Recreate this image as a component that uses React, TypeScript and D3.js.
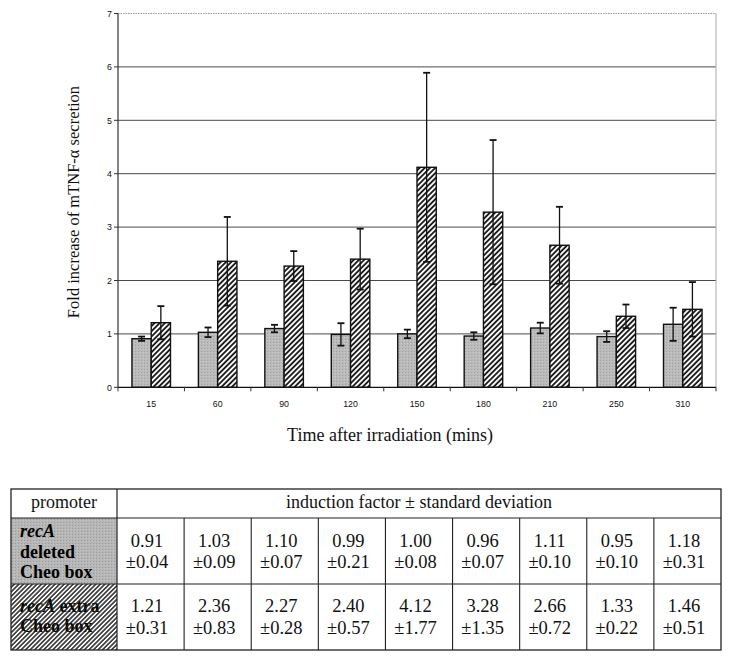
import React from "react";
import * as d3 from "d3";

const categories = ["15", "60", "90", "120", "150", "180", "210", "250", "310"];
const deletedMeans = [0.91, 1.03, 1.1, 0.99, 1.0, 0.96, 1.11, 0.95, 1.18];
const deletedSD = [0.04, 0.09, 0.07, 0.21, 0.08, 0.07, 0.1, 0.1, 0.31];
const extraMeans = [1.21, 2.36, 2.27, 2.4, 4.12, 3.28, 2.66, 1.33, 1.46];
const extraSD = [0.31, 0.83, 0.28, 0.57, 1.77, 1.35, 0.72, 0.22, 0.51];
const yTicks = [0, 1, 2, 3, 4, 5, 6, 7];
const seriesKeys = ["deleted", "extra"];

const W = 729;
const H = 660;
const plot = { left: 118, right: 716, top: 13.5, bottom: 387.3 };
const table = { left: 11, right: 721, firstCol: 117, rows: [489, 518, 584, 650] };

const SERIF = "'Liberation Serif', 'Times New Roman', serif";
const SANS = "'Liberation Sans', Arial, sans-serif";

export default function App() {
  const x = d3.scaleBand<string>().domain(categories).range([plot.left, plot.right]).paddingInner(0.42).paddingOuter(0.21);
  const step = x.step();
  const xs = d3.scaleBand<string>().domain(seriesKeys).range([0, x.bandwidth()]).padding(0);
  const y = d3.scaleLinear().domain([0, 7]).range([plot.bottom, plot.top]);
  const boundaries = d3.range(categories.length + 1).map((i) => plot.left + i * step);

  const tcol = d3.scaleBand<string>().domain(categories).range([table.firstCol, table.right]);

  const series = [
    { key: "deleted", means: deletedMeans, sd: deletedSD, fill: "url(#stipple)" },
    { key: "extra", means: extraMeans, sd: extraSD, fill: "url(#hatch)" },
  ];

  return (
    <svg width={W} height={H} style={{ position: "absolute", left: 0, top: 0, background: "#fff" }}>
      <defs>
        <pattern id="hatch" patternUnits="userSpaceOnUse" width="3.7" height="3.7" patternTransform="rotate(45)">
          <rect width="3.7" height="3.7" fill="#fff" />
          <line x1="1" y1="0" x2="1" y2="3.7" stroke="#111" strokeWidth="1.8" />
        </pattern>
        <pattern id="hatchThin" patternUnits="userSpaceOnUse" width="3.2" height="3.2" patternTransform="rotate(45)">
          <line x1="0.8" y1="0" x2="0.8" y2="3.2" stroke="#222" strokeWidth="1" />
        </pattern>
        <pattern id="hatchBg" patternUnits="userSpaceOnUse" width="3.2" height="3.2" patternTransform="rotate(45)">
          <rect width="3.2" height="3.2" fill="#fff" />
          <line x1="0.8" y1="0" x2="0.8" y2="3.2" stroke="#222" strokeWidth="1" />
        </pattern>
        <pattern id="stipple" patternUnits="userSpaceOnUse" width="3" height="3">
          <rect width="3" height="3" fill="#bababa" />
          <rect x="0" y="0" width="1" height="1" fill="#a2a2a2" />
          <rect x="2" y="1" width="1" height="1" fill="#cacaca" />
        </pattern>
        <pattern id="stippleCell" patternUnits="userSpaceOnUse" width="3" height="3">
          <rect width="3" height="3" fill="#b6b6b6" />
          <rect x="0" y="0" width="1" height="1" fill="#9c9c9c" />
          <rect x="2" y="1" width="1" height="1" fill="#c6c6c6" />
        </pattern>
      </defs>

      {/* grid lines */}
      {yTicks.filter((t) => t > 0 && t < 7).map((t) => (
        <line key={"g" + t} x1={plot.left} x2={plot.right} y1={y(t)} y2={y(t)} stroke="#4a4a4a" strokeWidth={1} />
      ))}
      <line x1={plot.left} x2={plot.right} y1={y(7)} y2={y(7)} stroke="#999" strokeWidth={1} strokeDasharray="1.5,1" />
      <line x1={plot.right} x2={plot.right} y1={y(7)} y2={y(0)} stroke="#aaa" strokeWidth={1} />

      {/* bars */}
      {series.map((s) =>
        categories.map((c, i) => {
          const bx = (x(c) as number) + (xs(s.key) as number);
          const bw = xs.bandwidth();
          return (
            <rect key={s.key + c} x={bx} y={y(s.means[i])} width={bw} height={y(0) - y(s.means[i])} fill={s.fill} stroke="#111" strokeWidth={1.4} />
          );
        })
      )}

      {/* error bars */}
      {series.map((s) =>
        categories.map((c, i) => {
          const cx = (x(c) as number) + (xs(s.key) as number) + xs.bandwidth() / 2;
          const lo = y(Math.max(0, s.means[i] - s.sd[i]));
          const hi = y(s.means[i] + s.sd[i]);
          return (
            <g key={"e" + s.key + c} stroke="#111" strokeWidth={1.3}>
              <line x1={cx} x2={cx} y1={lo} y2={hi} />
              <line x1={cx - 3.5} x2={cx + 3.5} y1={hi} y2={hi} strokeWidth={1.8} />
              <line x1={cx - 3.5} x2={cx + 3.5} y1={lo} y2={lo} strokeWidth={1.8} />
            </g>
          );
        })
      )}

      {/* axes */}
      <line x1={plot.left} x2={plot.left} y1={y(7)} y2={y(0)} stroke="#333" strokeWidth={1.2} />
      <line x1={plot.left} x2={plot.right} y1={y(0)} y2={y(0)} stroke="#111" strokeWidth={1.3} />
      {yTicks.map((t) => (
        <g key={"yt" + t}>
          <line x1={plot.left - 4} x2={plot.left} y1={y(t)} y2={y(t)} stroke="#333" strokeWidth={1} />
          <text x={plot.left - 6} y={y(t) + 3.2} textAnchor="end" fontFamily={SANS} fontSize={8.8} fill="#111">{t}</text>
        </g>
      ))}
      {boundaries.map((bx, i) => (
        <line key={"xt" + i} x1={bx} x2={bx} y1={y(0)} y2={y(0) + 4} stroke="#333" strokeWidth={1} />
      ))}
      {categories.map((c) => (
        <text key={"xl" + c} x={(x(c) as number) + x.bandwidth() / 2} y={406.5} textAnchor="middle" fontFamily={SANS} fontSize={8.8} fill="#111">{c}</text>
      ))}

      {/* axis titles */}
      <text transform={`translate(79,202) rotate(-90)`} textAnchor="middle" fontFamily={SERIF} fontSize={16.5} fill="#111">
        Fold increase of mTNF-α secretion
      </text>
      <text x={390} y={441} textAnchor="middle" fontFamily={SERIF} fontSize={18} fill="#111">
        Time after irradiation (mins)
      </text>

      {/* table */}
      <rect x={table.left} y={table.rows[1]} width={table.firstCol - table.left} height={table.rows[2] - table.rows[1]} fill="url(#stippleCell)" />
      <rect x={table.left} y={table.rows[2]} width={table.firstCol - table.left} height={table.rows[3] - table.rows[2]} fill="url(#hatchBg)" />

      <text x={(table.left + table.firstCol) / 2} y={508} textAnchor="middle" fontFamily={SERIF} fontSize={18} fill="#111">promoter</text>
      <text x={(table.firstCol + table.right) / 2} y={508} textAnchor="middle" fontFamily={SERIF} fontSize={18} fill="#111">induction factor ± standard deviation</text>

      <g fontFamily={SERIF} fontSize={18} fontWeight="bold" fill="#000">
        <text x={20} y={537} fontStyle="italic">recA</text>
        <text x={20} y={558}>deleted</text>
        <text x={20} y={578}>Cheo box</text>
        <text x={20} y={612}><tspan fontStyle="italic">recA</tspan> extra</text>
        <text x={20} y={632}>Cheo box</text>
      </g>
      <rect x={table.left} y={table.rows[2]} width={table.firstCol - table.left} height={table.rows[3] - table.rows[2]} fill="url(#hatchThin)" />

      <rect x={table.left} y={table.rows[0]} width={table.right - table.left} height={table.rows[3] - table.rows[0]} fill="none" stroke="#222" strokeWidth={1.3} />
      {table.rows.slice(1, 3).map((ry, i) => (
        <line key={"tr" + i} x1={table.left} x2={table.right} y1={ry} y2={ry} stroke="#222" strokeWidth={1.2} />
      ))}
      <line x1={table.firstCol} x2={table.firstCol} y1={table.rows[0]} y2={table.rows[3]} stroke="#222" strokeWidth={1.2} />
      {categories.slice(1).map((c) => (
        <line key={"tc" + c} x1={tcol(c)} x2={tcol(c)} y1={table.rows[1]} y2={table.rows[3]} stroke="#222" strokeWidth={1.1} />
      ))}

      <g fontFamily={SERIF} fontSize={18.5} fill="#111" textAnchor="middle">
        {categories.map((c, i) => {
          const cx = (tcol(c) as number) + tcol.bandwidth() / 2 - 3.5;
          return (
            <g key={"tv" + c}>
              <text x={cx} y={546.5}>{deletedMeans[i].toFixed(2)}</text>
              <text x={cx} y={568}>±{deletedSD[i].toFixed(2)}</text>
              <text x={cx} y={612}>{extraMeans[i].toFixed(2)}</text>
              <text x={cx} y={634}>±{extraSD[i].toFixed(2)}</text>
            </g>
          );
        })}
      </g>
    </svg>
  );
}
